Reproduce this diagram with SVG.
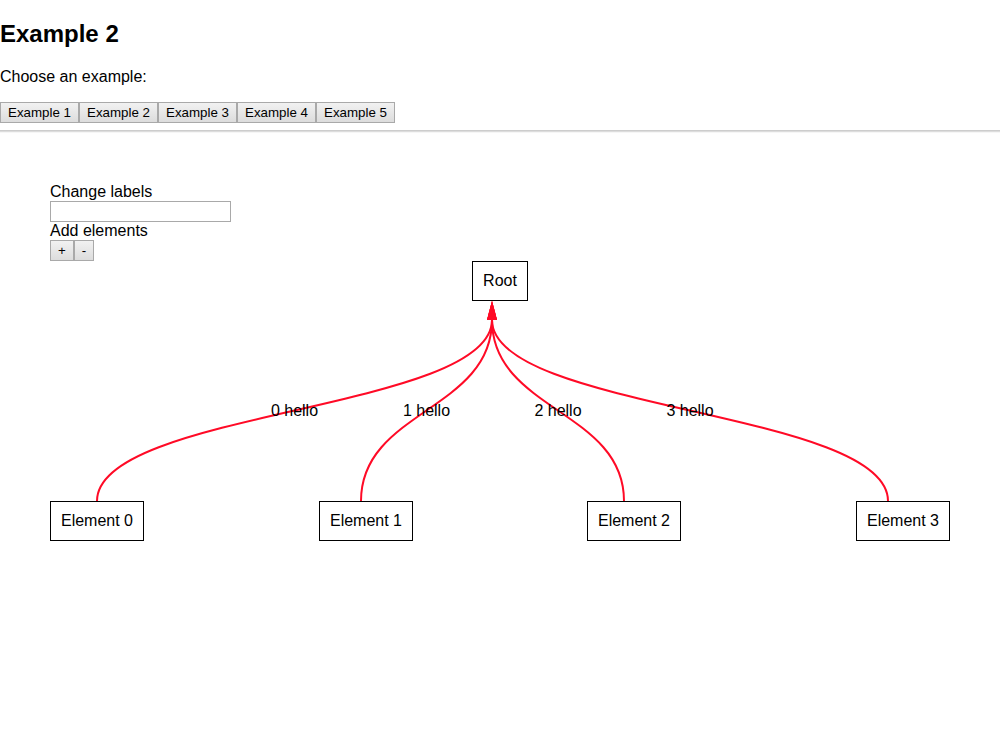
<svg xmlns="http://www.w3.org/2000/svg" width="1000" height="741" viewBox="0 0 1000 741">
<style>
text{font-family:"Liberation Sans",Arial,sans-serif;fill:#000}
.h1{font-size:24px;font-weight:bold}
.t{font-size:16px}
.bt{font-size:13.33px;text-anchor:middle}
.btn{fill:url(#bg);stroke:#a9a9a9;stroke-width:1}
.node rect{fill:#fff;stroke:#000;stroke-width:1}
.node text{font-size:16px;text-anchor:middle}
.edge{fill:none;stroke:#ff0a26;stroke-width:2}
.lbl{font-size:16px;text-anchor:middle}
</style>
<defs>
<linearGradient id="bg" x1="0" y1="0" x2="0" y2="1">
<stop offset="0" stop-color="#f2f2f2"/>
<stop offset="1" stop-color="#dcdcdc"/>
</linearGradient>
<marker id="arrow" markerUnits="userSpaceOnUse" markerWidth="19" markerHeight="10" refX="0" refY="5" orient="auto" viewBox="0 0 19 10">
<path d="M0,0 L19,5 L0,10 Z" fill="#ff0a26"/>
</marker>
</defs>
<rect width="1000" height="741" fill="#fff"/>
<g id="page">
<text class="h1" x="0" y="42">Example 2</text>
<text class="t" x="0" y="82">Choose an example:</text>
<rect class="btn" x="0.5" y="102.5" width="78" height="20"/>
<text class="bt" x="39.5" y="117">Example 1</text>
<rect class="btn" x="79.5" y="102.5" width="78" height="20"/>
<text class="bt" x="118.5" y="117">Example 2</text>
<rect class="btn" x="158.5" y="102.5" width="78" height="20"/>
<text class="bt" x="197.5" y="117">Example 3</text>
<rect class="btn" x="237.5" y="102.5" width="78" height="20"/>
<text class="bt" x="276.5" y="117">Example 4</text>
<rect class="btn" x="316.5" y="102.5" width="78" height="20"/>
<text class="bt" x="355.5" y="117">Example 5</text>
<line x1="0" y1="131" x2="1000" y2="131" stroke="#9a9a9a" stroke-width="1"/>
<line x1="0" y1="132" x2="1000" y2="132" stroke="#eeeeee" stroke-width="1"/>
<text class="t" x="50" y="197">Change labels</text>
<rect x="50.5" y="201.5" width="180" height="20" fill="#fff" stroke="#a9a9a9"/>
<text class="t" x="50" y="236">Add elements</text>
<rect class="btn" x="50.5" y="240.5" width="23" height="20"/>
<text class="bt" x="62" y="255">+</text>
<rect class="btn" x="74.5" y="240.5" width="19" height="20"/>
<text class="bt" x="84" y="255">-</text>
</g>
<g id="connectors">
<path class="edge" d="M97,501 C97,410.5 492,410.5 492,320" marker-end="url(#arrow)"/>
<path class="edge" d="M361,501 C361,410.5 492,410.5 492,320" marker-end="url(#arrow)"/>
<path class="edge" d="M624,501 C624,410.5 492,410.5 492,320" marker-end="url(#arrow)"/>
<path class="edge" d="M888,501 C888,410.5 492,410.5 492,320" marker-end="url(#arrow)"/>
<text class="lbl" x="294.5" y="416">0 hello</text>
<text class="lbl" x="426.5" y="416">1 hello</text>
<text class="lbl" x="558" y="416">2 hello</text>
<text class="lbl" x="690" y="416">3 hello</text>
</g>
<g id="root" class="node">
<rect x="472.5" y="261.5" width="55" height="39"/>
<text x="500" y="286">Root</text>
</g>
<g id="element0" class="node">
<rect x="50.5" y="501.5" width="93" height="39"/>
<text x="97" y="526">Element 0</text>
</g>
<g id="element1" class="node">
<rect x="319.5" y="501.5" width="93" height="39"/>
<text x="366" y="526">Element 1</text>
</g>
<g id="element2" class="node">
<rect x="587.5" y="501.5" width="93" height="39"/>
<text x="634" y="526">Element 2</text>
</g>
<g id="element3" class="node">
<rect x="856.5" y="501.5" width="93" height="39"/>
<text x="903" y="526">Element 3</text>
</g>
</svg>
